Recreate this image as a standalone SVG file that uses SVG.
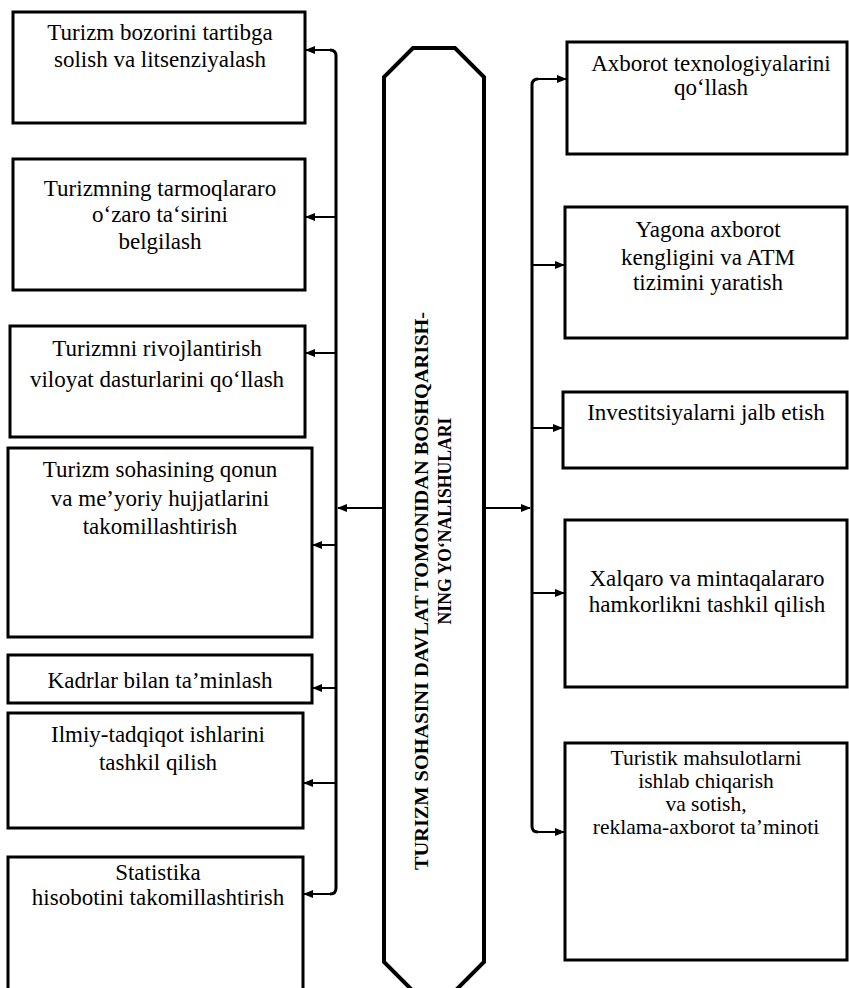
<svg xmlns="http://www.w3.org/2000/svg" width="849" height="988" viewBox="0 0 849 988">
<style>
.box{fill:#fff;stroke:#000;stroke-width:3}
.t{font-family:"Liberation Serif","Times New Roman",serif;font-size:23px;fill:#000;text-anchor:middle}
.s{font-size:21.5px}
.c{font-family:"Liberation Serif","Times New Roman",serif;font-size:19px;font-weight:bold;fill:#000;text-anchor:middle}
.bus{fill:none;stroke:#000;stroke-width:3}
.arr{fill:none;stroke:#000;stroke-width:2;marker-end:url(#ah)}
</style>
<defs>
<marker id="ah" markerWidth="10" markerHeight="8" refX="9" refY="4" orient="auto" markerUnits="userSpaceOnUse">
<path d="M0,0 L10,4 L0,8 Z" fill="#000"/>
</marker>
</defs>
<rect width="849" height="988" fill="#fff"/>

<g id="center">
<polygon points="413,48 455,48 484,77 484,962 455,991 413,991 384,962 384,77" fill="#fff" stroke="#000" stroke-width="4"/>
<text class="c" transform="translate(428,591) rotate(-90)" textLength="558" lengthAdjust="spacingAndGlyphs">TURIZM SOHASINI DAVLAT TOMONIDAN BOSHQARISH-</text>
<text class="c" transform="translate(451,521) rotate(-90)" textLength="207" lengthAdjust="spacingAndGlyphs">NING YO‘NALISHULARI</text>
</g>

<g id="L1"><rect class="box" x="13" y="12" width="292" height="111"/>
<text class="t" x="160" y="40">Turizm bozorini tartibga</text>
<text class="t" x="160" y="67">solish va litsenziyalash</text></g>

<g id="L2"><rect class="box" x="13" y="159" width="292" height="131"/>
<text class="t" x="160" y="196">Turizmning tarmoqlararo</text>
<text class="t" x="160" y="222">o‘zaro ta‘sirini</text>
<text class="t" x="160" y="249">belgilash</text></g>

<g id="L3"><rect class="box" x="10" y="326" width="295" height="111"/>
<text class="t" x="157" y="356">Turizmni rivojlantirish</text>
<text class="t" x="157" y="387">viloyat dasturlarini qo‘llash</text></g>

<g id="L4"><rect class="box" x="8" y="448" width="304" height="189"/>
<text class="t" x="160" y="477">Turizm sohasining qonun</text>
<text class="t" x="160" y="506">va me’yoriy hujjatlarini</text>
<text class="t" x="160" y="534">takomillashtirish</text></g>

<g id="L5"><rect class="box" x="8" y="655" width="304" height="48"/>
<text class="t" x="160" y="688">Kadrlar bilan ta’minlash</text></g>

<g id="L6"><rect class="box" x="8" y="713" width="295" height="115"/>
<text class="t" x="158" y="742">Ilmiy-tadqiqot ishlarini</text>
<text class="t" x="158" y="770">tashkil qilish</text></g>

<g id="L7"><rect class="box" x="8" y="857" width="295" height="140"/>
<text class="t" x="158" y="880">Statistika</text>
<text class="t" x="158" y="905">hisobotini takomillashtirish</text></g>

<g id="R1"><rect class="box" x="567" y="42" width="280" height="112"/>
<text class="t" x="711" y="71">Axborot texnologiyalarini</text>
<text class="t" x="711" y="95">qo‘llash</text></g>

<g id="R2"><rect class="box" x="565" y="207" width="282" height="131"/>
<text class="t" x="708" y="237">Yagona axborot</text>
<text class="t" x="708" y="265">kengligini va ATM</text>
<text class="t" x="708" y="290">tizimini yaratish</text></g>

<g id="R3"><rect class="box" x="563" y="392" width="284" height="76"/>
<text class="t" x="706" y="420">Investitsiyalarni jalb etish</text></g>

<g id="R4"><rect class="box" x="565" y="520" width="282" height="167"/>
<text class="t" x="707" y="586">Xalqaro va mintaqalararo</text>
<text class="t" x="707" y="612">hamkorlikni tashkil qilish</text></g>

<g id="R5"><rect class="box" x="565" y="743" width="282" height="217"/>
<text class="t s" x="706" y="765">Turistik mahsulotlarni</text>
<text class="t s" x="706" y="788">ishlab chiqarish</text>
<text class="t s" x="706" y="811">va sotish,</text>
<text class="t s" x="706" y="834">reklama-axborot ta’minoti</text></g>

<g id="connectors">
<path class="bus" d="M336,56 Q336,50 330,50 M336,56 L336,888 Q336,894 330,894"/>
<line class="arr" x1="331" y1="50" x2="306" y2="50"/>
<line class="arr" x1="336" y1="217" x2="306" y2="217"/>
<line class="arr" x1="336" y1="353" x2="306" y2="353"/>
<line class="arr" x1="336" y1="545" x2="313" y2="545"/>
<line class="arr" x1="336" y1="688" x2="313" y2="688"/>
<line class="arr" x1="336" y1="783" x2="304" y2="783"/>
<line class="arr" x1="331" y1="894" x2="304" y2="894"/>
<line class="arr" x1="382" y1="508" x2="338" y2="508"/>
<path class="bus" d="M538,79 Q532,79 532,85 L532,826 Q532,832 538,832"/>
<line class="arr" x1="537" y1="79" x2="566" y2="79"/>
<line class="arr" x1="532" y1="265" x2="564" y2="265"/>
<line class="arr" x1="532" y1="428" x2="562" y2="428"/>
<line class="arr" x1="532" y1="593" x2="564" y2="593"/>
<line class="arr" x1="537" y1="832" x2="564" y2="832"/>
<line class="arr" x1="486" y1="508" x2="530" y2="508"/>
</g>
</svg>
